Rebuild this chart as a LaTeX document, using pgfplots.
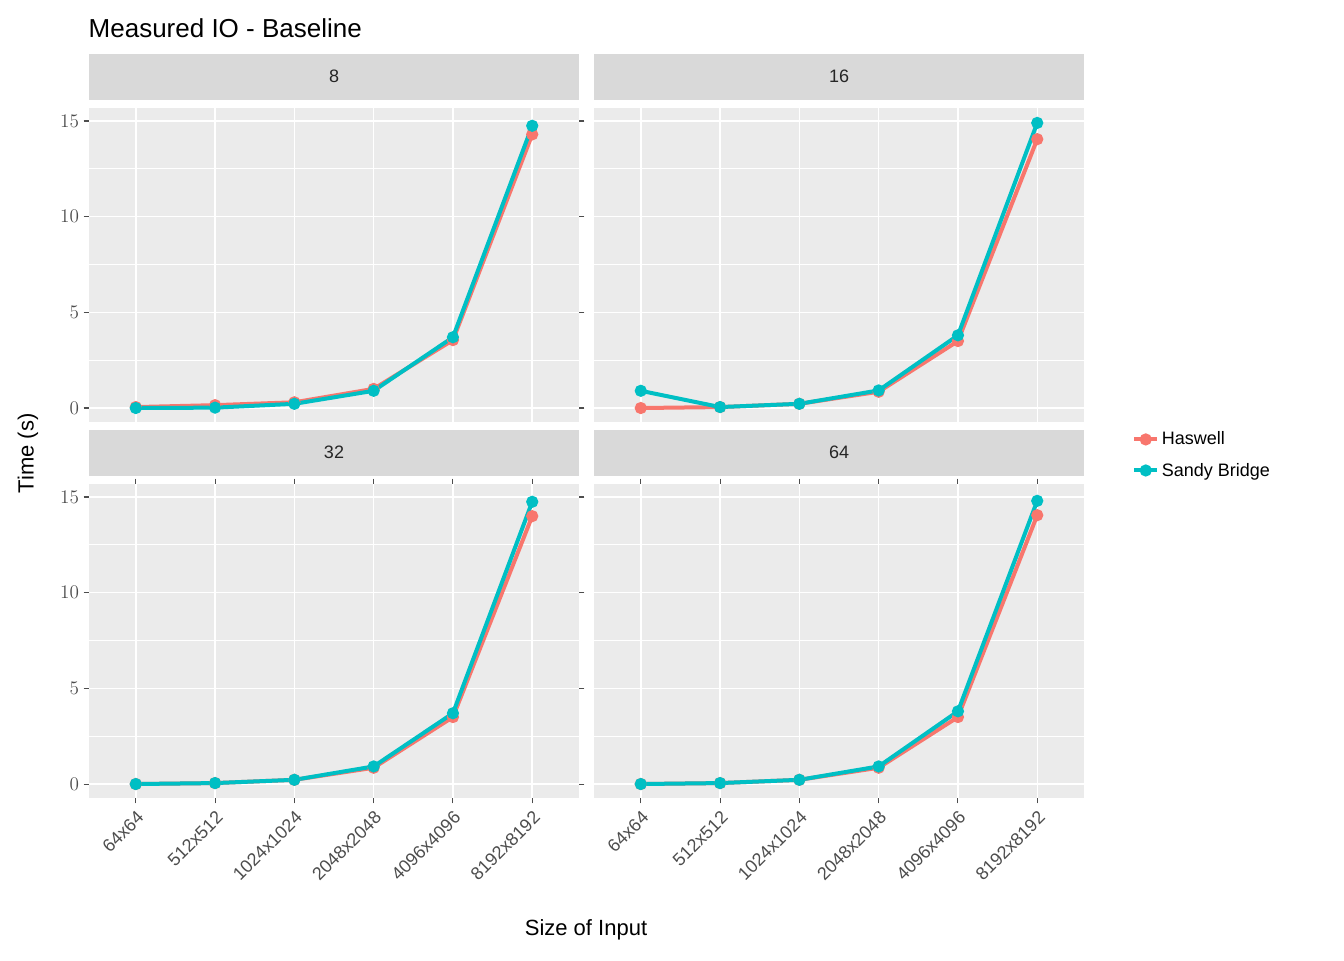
\documentclass[border=0pt]{standalone}
\usepackage{pgfplots}
\pgfplotsset{compat=1.18}
\usepackage{fontspec}
\setmainfont{Liberation Sans}
\definecolor{hasw}{HTML}{F8766D}
\definecolor{sandy}{HTML}{00BFC4}
\definecolor{panelbg}{HTML}{EBEBEB}
\definecolor{stripbg}{HTML}{D9D9D9}
\definecolor{ticktxt}{HTML}{4D4D4D}
\newcommand{\tk}{\fontsize{13.5}{16}\selectfont}
\pgfplotsset{panel/.style={
  anchor=north west,
  scale only axis, width=367.5pt, height=235.5pt,
  xmin=-0.59, xmax=5.59, ymin=-0.73, ymax=15.68,
  xtick={0,1,2,3,4,5},
  ytick={0,5,10,15}, minor ytick={2.5,7.5,12.5},
  grid=both, major grid style={white,line width=1.1pt}, minor grid style={white,line width=0.55pt},
  axis line style={draw=none},
  axis background/.style={fill=panelbg},
  tick style={ticktxt,line width=0.8pt}, major tick length=4pt, minor tick length=0pt,
  tick align=outside,
  xticklabel style={rotate=45,anchor=north east,font=\tk,text=ticktxt},
  yticklabel style={font=\tk,text=ticktxt},
  title style={at={(0.5,1)},anchor=south,fill=stripbg,minimum width=367.5pt,minimum height=34.5pt,inner sep=0pt,font=\tk,text=black!85},
  every axis plot/.append style={line width=3pt, mark=*, mark size=3pt},
},
noxl/.style={xticklabels={}, xtick style={draw=none}},
xl/.style={xticklabels={64x64,512x512,1024x1024,2048x2048,4096x4096,8192x8192}},
noyl/.style={yticklabels={}, ytick style={draw=none}},
}
\begin{document}
\begin{tikzpicture}
\useasboundingbox (0,0) rectangle (1008pt,720pt);
\begin{axis}[panel, noxl, at={(66.75pt,639pt)}, title={8}]
\addplot[hasw, mark options={fill=hasw}] coordinates {(0,0.05)(1,0.15)(2,0.3)(3,1.0)(4,3.55)(5,14.3)};
\addplot[sandy, mark options={fill=sandy}] coordinates {(0,0)(1,0.02)(2,0.22)(3,0.9)(4,3.7)(5,14.75)};
\end{axis}
\begin{axis}[panel, noxl, noyl, at={(445.5pt,639pt)}, title={16}, legend style={at={(1.09,-0.105)},anchor=west,draw=none,fill=none,font=\tk,row sep=8pt,cells={anchor=west}}, legend image post style={line width=3pt}]
\addplot[hasw, mark options={fill=hasw}] coordinates {(0,0)(1,0.05)(2,0.22)(3,0.85)(4,3.5)(5,14.05)};
\addplot[sandy, mark options={fill=sandy}] coordinates {(0,0.9)(1,0.05)(2,0.22)(3,0.92)(4,3.8)(5,14.9)};
\legend{Haswell,Sandy Bridge}
\end{axis}
\begin{axis}[panel, xl, at={(66.75pt,357pt)}, title={32}]
\addplot[hasw, mark options={fill=hasw}] coordinates {(0,0)(1,0.05)(2,0.22)(3,0.85)(4,3.5)(5,14.0)};
\addplot[sandy, mark options={fill=sandy}] coordinates {(0,0)(1,0.05)(2,0.22)(3,0.92)(4,3.7)(5,14.75)};
\end{axis}
\begin{axis}[panel, xl, noyl, at={(445.5pt,357pt)}, title={64}]
\addplot[hasw, mark options={fill=hasw}] coordinates {(0,0)(1,0.05)(2,0.22)(3,0.85)(4,3.5)(5,14.05)};
\addplot[sandy, mark options={fill=sandy}] coordinates {(0,0)(1,0.05)(2,0.22)(3,0.92)(4,3.8)(5,14.8)};
\end{axis}
\node[anchor=west,font=\fontsize{19.5}{22}\selectfont] at (63pt,699pt) {Measured IO - Baseline};
\node[font=\fontsize{16.5}{20}\selectfont] at (439.5pt,22.5pt) {Size of Input};
\node[rotate=90,font=\fontsize{16.5}{20}\selectfont] at (21pt,380pt) {Time (s)};
\end{tikzpicture}
\end{document}
